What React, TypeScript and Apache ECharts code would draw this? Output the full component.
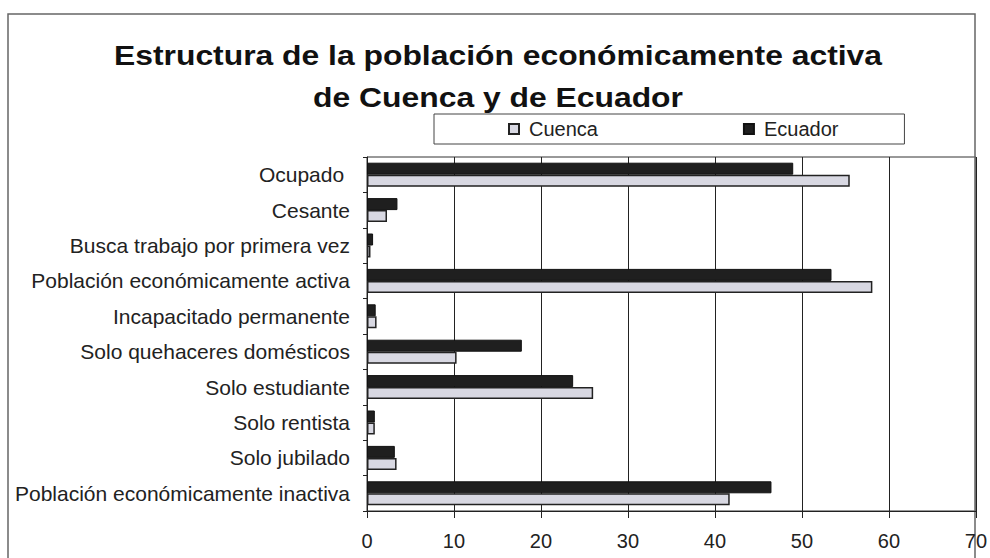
import React, { useEffect, useRef } from "react";
import * as echarts from "echarts";

const categories = [
  "Ocupado ",
  "Cesante",
  "Busca trabajo por primera vez",
  "Población económicamente activa",
  "Incapacitado permanente",
  "Solo quehaceres domésticos",
  "Solo estudiante",
  "Solo rentista",
  "Solo jubilado",
  "Población económicamente inactiva",
];
const cuenca = [55.5, 2.3, 0.4, 58.1, 1.1, 10.3, 26.0, 0.9, 3.4, 41.7];
const ecuador = [49.0, 3.5, 0.7, 53.4, 1.0, 17.8, 23.7, 0.9, 3.2, 46.5];
const xTicks = [0, 10, 20, 30, 40, 50, 60, 70];
const titleLines = ["Estructura de la población económicamente activa", "de Cuenca y de Ecuador"];

export default function App() {
  const ref = useRef<HTMLDivElement>(null);
  useEffect(() => {
    if (!ref.current) return;
    const chart = echarts.init(ref.current, null, { renderer: "svg" });
    const font = "'Liberation Sans', Arial, sans-serif";
    chart.setOption({
      animation: false,
      backgroundColor: "#ffffff",
      textStyle: { fontFamily: font },
      graphic: [
        {
          type: "rect",
          shape: { x: 8, y: 14, width: 967, height: 560 },
          style: { fill: "none", stroke: "#666", lineWidth: 1.5 },
          silent: true,
        },
        {
          type: "text",
          x: 498,
          y: 55,
          scaleX: 1.18,
          style: {
            text: titleLines[0],
            font: `bold 27px ${font}`,
            fill: "#111",
            textAlign: "center",
            textVerticalAlign: "middle",
          },
        },
        {
          type: "text",
          x: 498,
          y: 97,
          scaleX: 1.18,
          style: {
            text: titleLines[1],
            font: `bold 27px ${font}`,
            fill: "#111",
            textAlign: "center",
            textVerticalAlign: "middle",
          },
        },
      ],
      legend: {
        data: ["Cuenca", "Ecuador"],
        left: 434,
        top: 114,
        orient: "horizontal",
        itemWidth: 10,
        itemHeight: 10,
        itemGap: 145,
        icon: "rect",
        borderColor: "#444",
        borderWidth: 1,
        padding: [5, 66, 5, 74],
        textStyle: { fontSize: 20, color: "#222", fontFamily: font, padding: [0, 0, 0, 5] },
      },
      grid: {
        left: 367,
        right: 14,
        top: 157,
        bottom: 47,
        show: true,
        borderColor: "#333",
        borderWidth: 1,
        containLabel: false,
      },
      xAxis: {
        type: "value",
        min: 0,
        max: 70,
        interval: 10,
        axisLine: { show: true, lineStyle: { color: "#222", width: 1 } },
        axisTick: { show: true, length: 7, lineStyle: { color: "#222" } },
        splitLine: { show: true, lineStyle: { color: "#222", width: 1 } },
        axisLabel: {
          fontSize: 20,
          color: "#222",
          margin: 20,
          fontFamily: font,
          formatter: (v: number) => (xTicks.includes(v) ? String(v) : ""),
        },
      },
      yAxis: {
        type: "category",
        data: categories,
        inverse: true,
        axisLine: { show: true, lineStyle: { color: "#222", width: 1 } },
        axisTick: { show: true, length: 4, lineStyle: { color: "#222" } },
        axisLabel: { fontSize: 21, color: "#222", margin: 17, fontFamily: font },
      },
      series: [
        {
          name: "Ecuador",
          type: "bar",
          data: ecuador,
          barWidth: 12,
          barGap: "0%",
          itemStyle: { color: "#1f1f1f", borderColor: "#111", borderWidth: 1 },
        },
        {
          name: "Cuenca",
          type: "bar",
          data: cuenca,
          barWidth: 12,
          barGap: "0%",
          itemStyle: { color: "#d8d8e2", borderColor: "#222", borderWidth: 1.5 },
        },
      ],
    });
    return () => chart.dispose();
  }, []);
  return <div ref={ref} style={{ width: 990, height: 558, position: "absolute", left: 0, top: 0 }} />;
}
